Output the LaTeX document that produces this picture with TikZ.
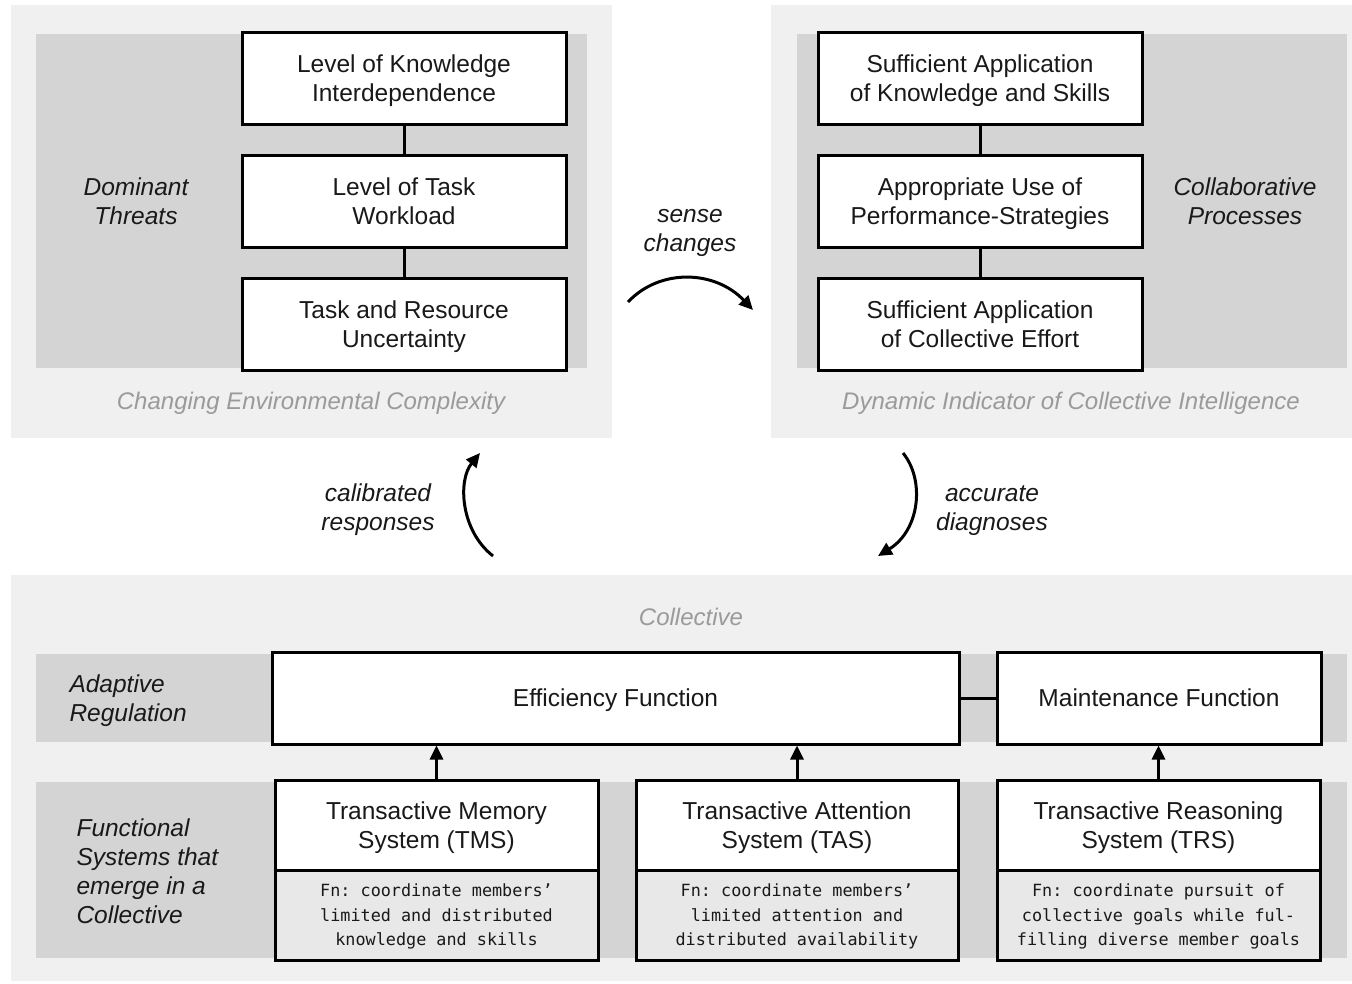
\documentclass[tikz,border=0pt]{standalone}
\usepackage{fontspec}
\setmainfont{Liberation Sans}
\newfontfamily\codefont{DejaVu Sans Mono}
\usetikzlibrary{arrows.meta}
\frenchspacing
\definecolor{panelbg}{HTML}{F0F0F0}
\definecolor{bandbg}{HTML}{D4D4D4}
\definecolor{fnbg}{HTML}{E8E8E8}
\definecolor{captiongray}{HTML}{9A9A9A}
\tikzset{
  every node/.style={font=\fontsize{24.5}{29}\selectfont, text=black!90},
  box/.style={draw=black, line width=3pt, fill=white, inner sep=0pt, align=center,
    text depth=0pt},
  fnbox/.style={draw=black, line width=3pt, fill=fnbg, inner sep=0pt, align=center,
    text depth=0pt, font=\codefont\fontsize{16.8}{24.5}\selectfont},
  sidelabel/.style={font=\itshape\fontsize{24.5}{29}\selectfont, align=center},
  leftlabel/.style={font=\itshape\fontsize{24.5}{29}\selectfont, align=left, anchor=west},
  caption/.style={font=\itshape\fontsize{24}{29}\selectfont, text=captiongray},
  link/.style={line width=3pt},
  flow/.style={line width=3pt, -{Triangle[length=14pt,width=13pt]}},
}
\begin{document}
\begin{tikzpicture}[x=1pt,y=-1pt]
\useasboundingbox (0,0) rectangle (1352,983);

% ---------- background panels ----------
\fill[panelbg] (11,5) rectangle (612,438);
\fill[bandbg] (36,34) rectangle (587,368);
\fill[panelbg] (771,5) rectangle (1352,438);
\fill[bandbg] (797,34) rectangle (1347,368);
\fill[panelbg] (11,575) rectangle (1352,981);
\fill[bandbg] (36,654) rectangle (1347,742);
\fill[bandbg] (36,782) rectangle (1347,958);

% ---------- dominant threats ----------
\node[box, minimum width=324, minimum height=92] (k) at (404,78)
  {Level of Knowledge\\Interdependence};
\node[box, minimum width=324, minimum height=92] (w) at (404,201)
  {Level of Task\\Workload};
\node[box, minimum width=324, minimum height=92] (u) at (404,324.5)
  {Task and Resource\\Uncertainty};
\draw[link] (k) -- (w);
\draw[link] (w) -- (u);
\node[sidelabel] (dt) at (136,201) {Dominant\\Threats};
\node[caption] (cec) at (311,403) {Changing Environmental Complexity};

% ---------- collaborative processes ----------
\node[box, minimum width=324, minimum height=92] (ks) at (980,78)
  {Sufficient Application\\of Knowledge and Skills};
\node[box, minimum width=324, minimum height=92] (ps) at (980,201)
  {Appropriate Use of\\Performance-Strategies};
\node[box, minimum width=324, minimum height=92] (ce) at (980,324.5)
  {Sufficient Application\\of Collective Effort};
\draw[link] (ks) -- (ps);
\draw[link] (ps) -- (ce);
\node[sidelabel] (cp) at (1245,201) {Collaborative\\Processes};
\node[caption] (dici) at (1071,403) {Dynamic Indicator of Collective Intelligence};

% ---------- cycle arrows ----------
\node[sidelabel] (sc) at (690,233) {sense\\changes};
\coordinate (s1) at (628,302);
\coordinate (s2) at (753,310);
\draw[flow] (s1) .. controls (660,268) and (715,270) .. (s2);

\node[sidelabel] (cr) at (378,510) {calibrated\\responses};
\coordinate (c1) at (493,556);
\coordinate (c2) at (480,453);
\draw[flow] (c1) .. controls (460,530) and (458,480) .. (c2);

\node[sidelabel] (ad) at (992,511) {accurate\\diagnoses};
\coordinate (a1) at (903,453);
\coordinate (a2) at (878,556);
\draw[flow] (a1) .. controls (925,480) and (920,530) .. (a2);

% ---------- collective ----------
\node[caption] (col) at (691,617) {Collective};
\node[leftlabel] (ar) at (66,701) {Adaptive\\Regulation};
\node[leftlabel] (fs) at (73,871) {Functional\\Systems that\\emerge in a\\Collective};

\node[box, minimum width=687, minimum height=92] (eff) at (615.5,698) {Efficiency Function};
\node[box, minimum width=324, minimum height=92] (mnt) at (1159,698) {Maintenance Function};
\draw[link] (eff) -- (mnt);

\node[box, minimum width=323, minimum height=90] (tms) at (436.5,825)
  {Transactive Memory\\System (TMS)};
\node[fnbox, minimum width=323, minimum height=90] (tmsf) at (436.5,915)
  {Fn: coordinate members’\\limited and distributed\\knowledge and skills};
\node[box, minimum width=322, minimum height=90] (tas) at (797,825)
  {Transactive Attention\\System (TAS)};
\node[fnbox, minimum width=322, minimum height=90] (tasf) at (797,915)
  {Fn: coordinate members’\\limited attention and\\distributed availability};
\node[box, minimum width=323, minimum height=90] (trs) at (1158.5,825)
  {Transactive Reasoning\\System (TRS)};
\node[fnbox, minimum width=323, minimum height=90] (trsf) at (1158.5,915)
  {Fn: coordinate pursuit of\\collective goals while ful-\\filling diverse member goals};

\draw[flow] (tms.north) -- (tms.north |- eff.south);
\draw[flow] (tas.north) -- (tas.north |- eff.south);
\draw[flow] (trs.north) -- (trs.north |- mnt.south);
\end{tikzpicture}
\end{document}
